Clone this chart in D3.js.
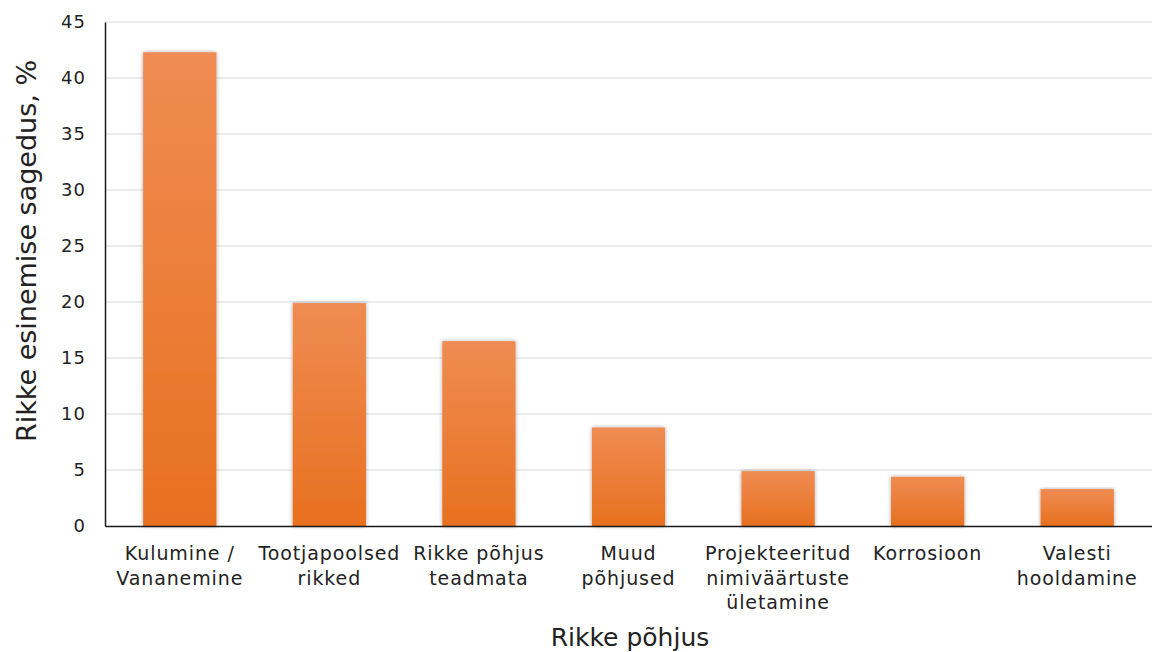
<!DOCTYPE html>
<html><head>
<meta charset="utf-8">
<script src="https://d3js.org/d3.v7.min.js"></script>
<style>
  body { margin: 0; background: #fff; }
  text { font-family: "DejaVu Sans", Verdana, sans-serif; fill: #222; }
  .grid line { stroke: #d9d9d9; stroke-width: 1px; }
</style>
</head>
<body>
<svg id="chart" width="1152" height="652"></svg>
<script>
  // data
  const categories = [
    ["Kulumine /", "Vananemine"],
    ["Tootjapoolsed", "rikked"],
    ["Rikke põhjus", "teadmata"],
    ["Muud", "põhjused"],
    ["Projekteeritud", "nimiväärtuste", "ületamine"],
    ["Korrosioon"],
    ["Valesti", "hooldamine"]
  ];
  const values = [42.3, 19.9, 16.5, 8.8, 4.9, 4.4, 3.3];
  const yTicks = [0, 5, 10, 15, 20, 25, 30, 35, 40, 45];

  const svg = d3.select("#chart");
  const margin = { top: 22, right: 0, bottom: 126, left: 105 };
  const width = +svg.attr("width");
  const height = +svg.attr("height");
  const plotW = width - margin.left - margin.right;
  const plotH = height - margin.top - margin.bottom;

  const defs = svg.append("defs");
  const grad = defs.append("linearGradient")
    .attr("id", "barGrad").attr("x1", 0).attr("y1", 0).attr("x2", 0).attr("y2", 1);
  grad.append("stop").attr("offset", "0%").attr("stop-color", "#ef8c52");
  grad.append("stop").attr("offset", "100%").attr("stop-color", "#e8701f");

  // soft shadow round the bars
  const shadow = defs.append("filter").attr("id", "shadow")
    .attr("x", "-20%").attr("y", "-5%").attr("width", "140%").attr("height", "110%");
  shadow.append("feGaussianBlur").attr("in", "SourceAlpha").attr("stdDeviation", 2.2);
  shadow.append("feComponentTransfer").append("feFuncA").attr("type", "linear").attr("slope", 0.35);
  const merge = shadow.append("feMerge");
  merge.append("feMergeNode");
  merge.append("feMergeNode").attr("in", "SourceGraphic");

  const g = svg.append("g").attr("transform", "translate(" + margin.left + "," + margin.top + ")");

  const x = d3.scaleBand()
    .domain(d3.range(categories.length))
    .range([0, plotW])
    .paddingInner(0.51)
    .paddingOuter(0.255);

  const y = d3.scaleLinear().domain([0, 45]).range([plotH, 0]);

  // gridlines
  g.append("g").attr("class", "grid")
    .selectAll("line").data(yTicks.filter(d => d > 0))
    .join("line")
    .attr("x1", 0).attr("x2", plotW)
    .attr("y1", d => y(d)).attr("y2", d => y(d));

  // bars
  g.selectAll("rect.bar").data(values)
    .join("rect")
    .attr("class", "bar")
    .attr("x", (d, i) => x(i))
    .attr("width", x.bandwidth())
    .attr("y", d => y(d))
    .attr("height", d => plotH - y(d))
    .attr("fill", "url(#barGrad)")
    .attr("filter", "url(#shadow)");

  // y axis
  const yAxis = d3.axisLeft(y).tickValues(yTicks).tickSize(0).tickPadding(19);
  const ya = g.append("g").call(yAxis);
  ya.select(".domain").attr("stroke", "#1a1a1a").attr("stroke-width", 1.5);
  ya.selectAll("text")
    .style("font-size", "18px")
    .style("letter-spacing", "1px")
    .attr("fill", "#222");

  // x axis
  const xa = g.append("g").attr("transform", "translate(0," + plotH + ")")
    .call(d3.axisBottom(x).tickSize(0).tickFormat(""));
  xa.select(".domain").attr("stroke", "#1a1a1a").attr("stroke-width", 1.5);

  categories.forEach((lines, i) => {
    const cx = x(i) + x.bandwidth() / 2;
    const t = g.append("text")
      .attr("x", cx)
      .attr("y", plotH + 34)
      .attr("text-anchor", "middle")
      .style("font-size", "19px")
      .style("letter-spacing", "0.9px");
    lines.forEach((l, j) => {
      t.append("tspan").attr("x", cx).attr("dy", j === 0 ? 0 : 24.5).text(l);
    });
  });

  // axis titles
  svg.append("text")
    .attr("x", 630)
    .attr("y", 646)
    .attr("text-anchor", "middle")
    .style("font-size", "25px")
    .text("Rikke põhjus");

  svg.append("text")
    .attr("transform", "translate(36,251) rotate(-90)")
    .attr("text-anchor", "middle")
    .style("font-size", "27px")
    .text("Rikke esinemise sagedus, %");
</script>
</body>
</html>
